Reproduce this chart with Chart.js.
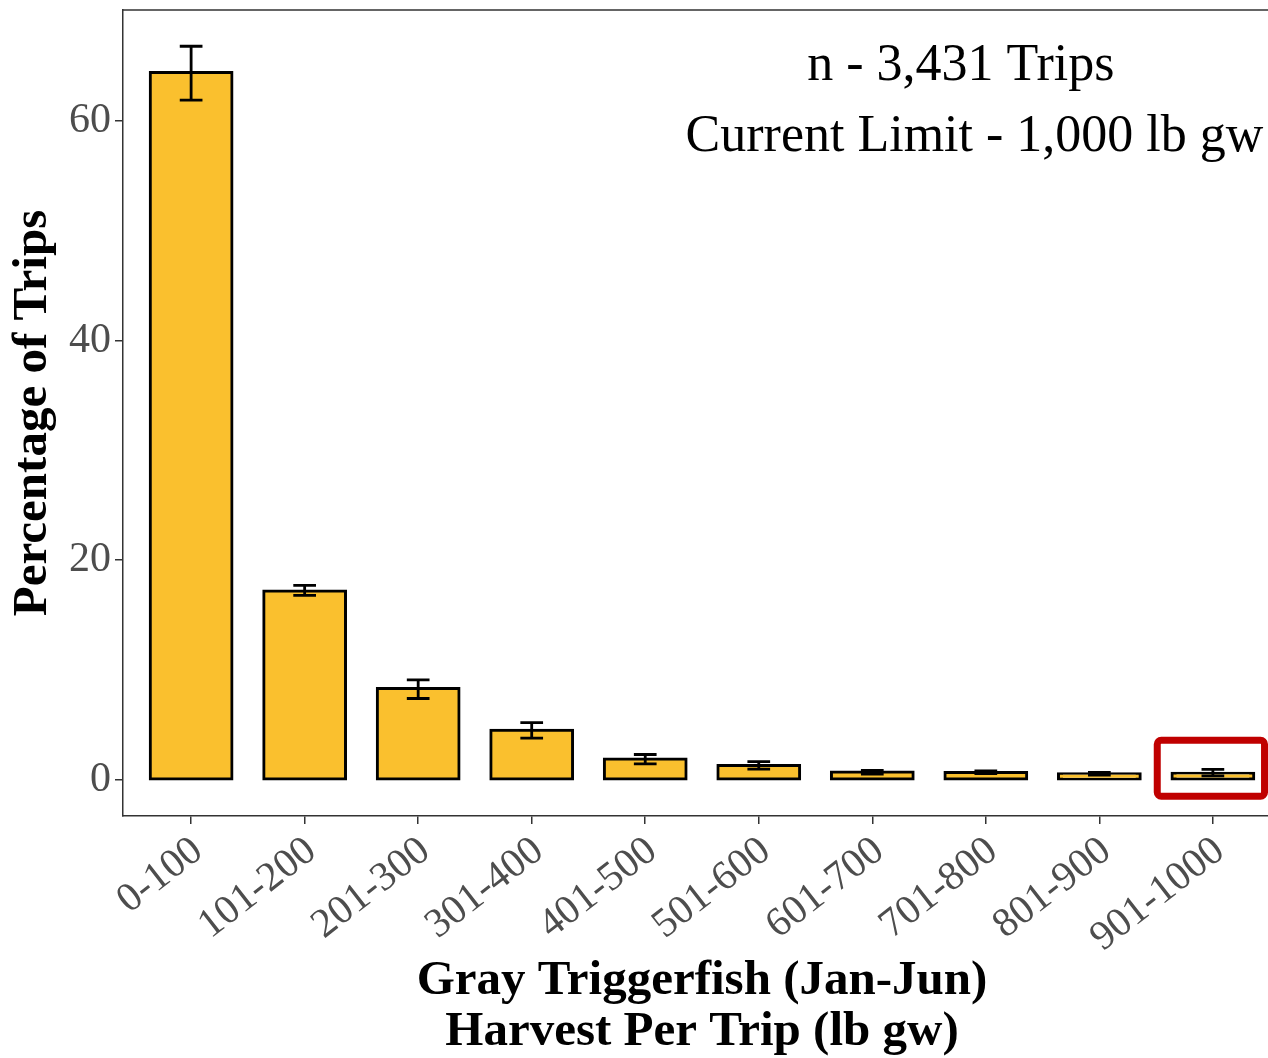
<!DOCTYPE html>
<html>
<head>
<meta charset="utf-8">
<script src="https://cdn.jsdelivr.net/npm/chart.js@4.4.1/dist/chart.umd.min.js"></script>
<style>
  html, body { margin: 0; padding: 0; background: #fff; overflow: hidden; }
  #wrap { width: 1285px; height: 1058px; }
</style>
</head>
<body>
<div id="wrap"><canvas id="chart" width="1285" height="1058"></canvas></div>
<script>
let categories = ["0-100", "101-200", "201-300", "301-400", "401-500",
  "501-600", "601-700", "701-800", "801-900", "901-1000"];
let percentValues = [64.4, 17.2, 8.3, 4.5, 1.9, 1.3, 0.7, 0.67, 0.55, 0.6];
let errorLow = [61.9, 16.8, 7.4, 3.8, 1.45, 0.97, 0.52, 0.55, 0.42, 0.35];
let errorHigh = [66.8, 17.7, 9.1, 5.2, 2.3, 1.66, 0.85, 0.8, 0.68, 0.94];
let yTicks = [0, 20, 40, 60];
let noteLines = ["n - 3,431 Trips", "Current Limit - 1,000 lb gw"];
let noteX = [7.78, 7.9];
let noteY = [65, 58.5];
// highlight box round the last bin (data units)
let boxX = [9.51, 10.455];
let boxY = [-1.5, 3.59];

const serif = "'Liberation Serif', 'Times New Roman', serif";

function noPad(s) {
  s.paddingTop = 0; s.paddingBottom = 0;
  s.paddingLeft = 0; s.paddingRight = 0;
}

let extras = {
  id: "extras",
  afterDatasetsDraw(chart) {
    const ctx = chart.ctx;
    const x = chart.scales.x;
    const y = chart.scales.y;
    const area = chart.chartArea;
    ctx.save();

    // error bars
    ctx.strokeStyle = "#000";
    ctx.lineWidth = 2.8;
    const half = x.getPixelForValue(1.1) - x.getPixelForValue(1);
    categories.forEach((c, i) => {
      const cx = x.getPixelForValue(i + 1);
      const top = y.getPixelForValue(errorHigh[i]);
      const bot = y.getPixelForValue(errorLow[i]);
      ctx.beginPath();
      ctx.moveTo(cx, top); ctx.lineTo(cx, bot);
      ctx.moveTo(cx - half, top); ctx.lineTo(cx + half, top);
      ctx.moveTo(cx - half, bot); ctx.lineTo(cx + half, bot);
      ctx.stroke();
    });

    // red box
    ctx.strokeStyle = "#C00000";
    ctx.lineWidth = 7;
    ctx.beginPath();
    const bx0 = x.getPixelForValue(boxX[0]), bx1 = x.getPixelForValue(boxX[1]);
    const by0 = y.getPixelForValue(boxY[1]), by1 = y.getPixelForValue(boxY[0]);
    ctx.roundRect(bx0, by0, bx1 - bx0, by1 - by0, 4);
    ctx.stroke();

    // panel top / right border
    ctx.strokeStyle = "#333";
    ctx.lineWidth = 1.5;
    ctx.beginPath();
    ctx.moveTo(area.left, area.top); ctx.lineTo(area.right, area.top);
    ctx.lineTo(area.right, area.bottom);
    ctx.stroke();

    // notes
    ctx.fillStyle = "#000";
    ctx.font = "52px " + serif;
    ctx.textAlign = "center";
    ctx.textBaseline = "middle";
    noteLines.forEach((t, i) => {
      ctx.fillText(t, x.getPixelForValue(noteX[i]), y.getPixelForValue(noteY[i]));
    });
    ctx.restore();
  }
};

let chart1 = new Chart(document.querySelector("#chart"), {
  type: "bar",
  data: {
    datasets: [{
      data: categories.map((c, i) => ({ x: i + 1, y: percentValues[i] })),
      backgroundColor: "#FAC02E",
      borderColor: "#000",
      borderWidth: 3,
      borderSkipped: false,
      inflateAmount: 1.5,
      barPercentage: 0.72,
      categoryPercentage: 1.0,
    }],
  },
  options: {
    responsive: false,
    animation: false,
    layout: { padding: { top: 10, right: 4, left: 0, bottom: 0 } },
    plugins: { legend: { display: false }, tooltip: { enabled: false } },
    scales: {
      x: {
        type: "linear",
        offset: false,
        min: 0.4,
        max: 10.6,
        afterBuildTicks: (s) => { s.ticks = categories.map((c, i) => ({ value: i + 1 })); },
        afterFit: (s) => { s.height = 242; noPad(s); },
        ticks: {
          autoSkip: false,
          minRotation: 38,
          maxRotation: 38,
          padding: 3,
          labelOffset: 7,
          color: "#4d4d4d",
          font: { family: serif, size: 41 },
          callback: (v) => categories[v - 1],
        },
        grid: { drawOnChartArea: false, offset: false, tickLength: 8, color: "#333", lineWidth: 1.5 },
        border: { color: "#333", width: 1.5 },
        title: {
          display: true,
          text: ["Gray Triggerfish (Jan-Jun)", "Harvest Per Trip (lb gw)"],
          color: "#000",
          font: { family: serif, size: 49, weight: "bold", lineHeight: 1.04 },
          padding: { top: 0, bottom: 0 },
        },
      },
      y: {
        min: -3.3,
        max: 70.1,
        afterBuildTicks: (s) => { s.ticks = yTicks.map((v) => ({ value: v })); },
        afterFit: (s) => { s.width = 123; noPad(s); },
        ticks: {
          padding: 4,
          color: "#4d4d4d",
          font: { family: serif, size: 42 },
        },
        grid: { drawOnChartArea: false, tickLength: 8, color: "#333", lineWidth: 1.5 },
        border: { color: "#333", width: 1.5 },
        title: {
          display: true,
          text: "Percentage of Trips",
          color: "#000",
          font: { family: serif, size: 49, weight: "bold" },
          padding: { top: 4, bottom: 0 },
        },
      },
    },
  },
  plugins: [extras],
});
</script>
</body>
</html>
